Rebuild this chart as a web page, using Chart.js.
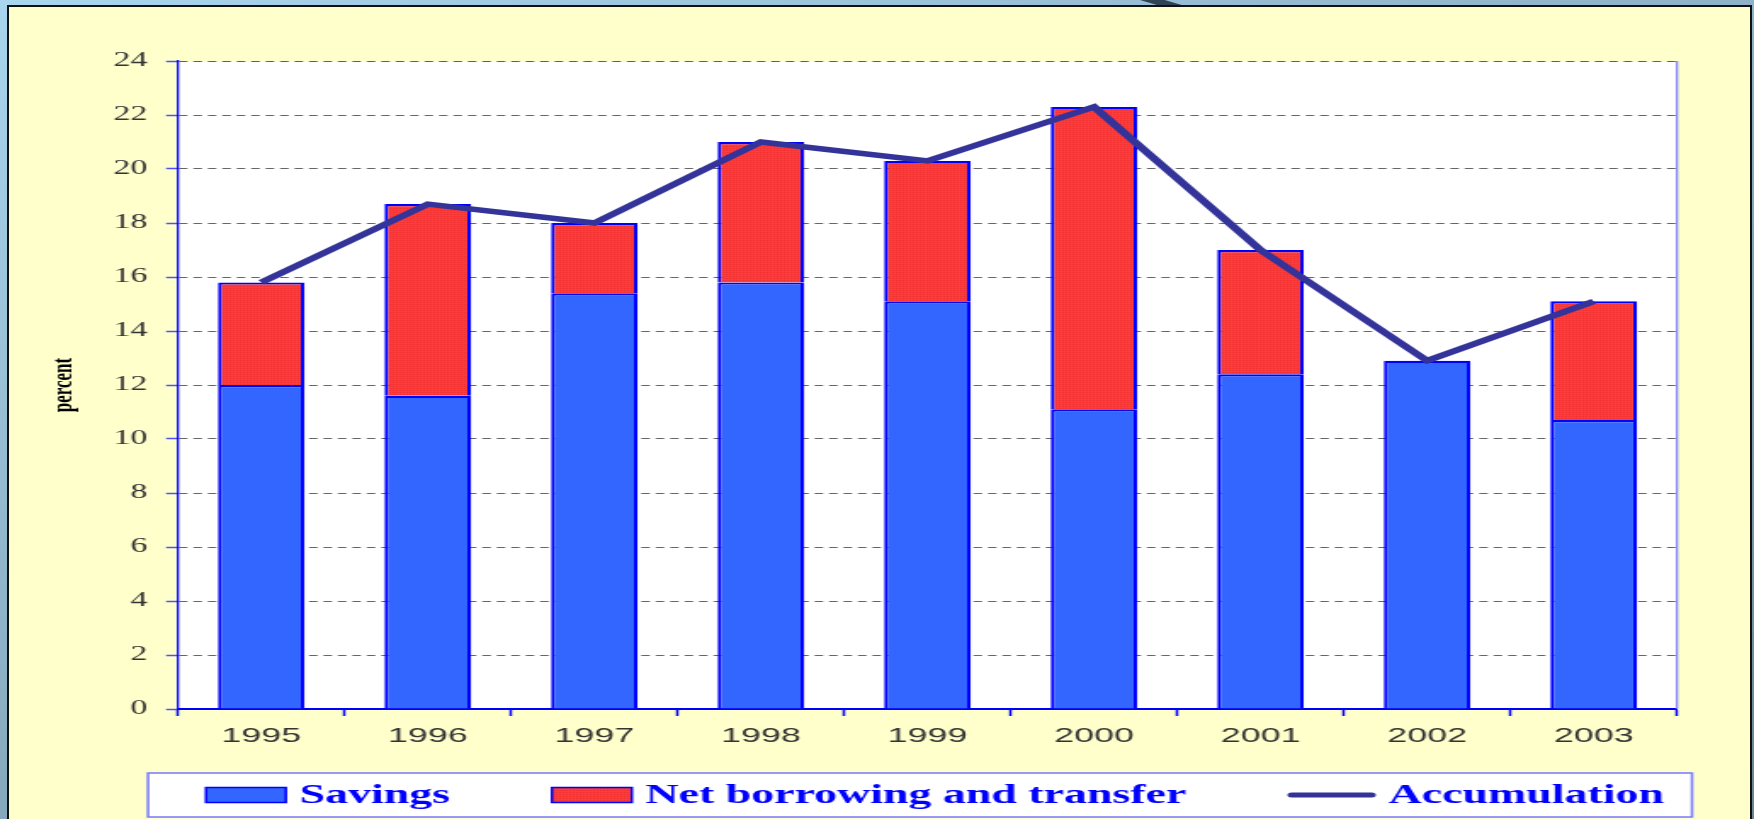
<!DOCTYPE html>
<html>
<head>
<meta charset="utf-8">
<script src="https://cdn.jsdelivr.net/npm/chart.js@4.4.1/dist/chart.umd.min.js"></script>
<style>
  html, body { margin: 0; padding: 0; width: 1754px; height: 819px; overflow: hidden; }
  body { position: relative; background: linear-gradient(160deg, #a9d5ee 0%, #8db1c6 45%, #6a8493 100%); }
  #mark { position: absolute; left: 1140px; top: 0; width: 45px; height: 6px; background: #2f4354;
          clip-path: polygon(0 0, 55% 0, 100% 100%, 45% 100%); }
  #panel { position: absolute; left: 7px; top: 5px; width: 1745px; height: 830px; box-sizing: border-box;
           background: #ffffcc; border: 2px solid #111; }
  #chart { position: absolute; left: 0; top: 0; }
</style>
</head>
<body>
<div id="mark"></div>
<div id="panel"></div>
<canvas id="chart" width="1032" height="819" style="width:1754px;height:819px"></canvas>
<script>
// values (percent)
const years = ['1995', '1996', '1997', '1998', '1999', '2000', '2001', '2002', '2003'];
const savings = [12.0, 11.6, 15.4, 15.8, 15.1, 11.1, 12.4, 12.9, 10.7];
const netBorrowing = [3.8, 7.1, 2.6, 5.2, 5.2, 11.2, 4.6, 0, 4.4];
const accumulation = [15.8, 18.7, 18.0, 21.0, 20.3, 22.3, 17.0, 12.9, 15.1];
const yMin = 0, yMax = 24, yStep = 2;

// the original picture is stretched sideways, so the canvas is drawn narrow and widened by css
const SX = 1754 / 1032;

function redTexture() {
  const c = document.createElement('canvas');
  c.width = 2; c.height = 2;
  const g = c.getContext('2d');
  g.fillStyle = '#ff3b3b'; g.fillRect(0, 0, 2, 2);
  g.fillStyle = '#ee3030'; g.fillRect(1, 0, 1, 1);
  return g.createPattern(c, 'repeat');
}

const plotFrame = {
  id: 'plotFrame',
  beforeDraw(chart) {
    const {ctx, chartArea: a} = chart;
    ctx.save();
    ctx.fillStyle = '#ffffff';
    ctx.fillRect(a.left, a.top, a.right - a.left, a.bottom - a.top);
    ctx.restore();
  },
  afterDatasetsDraw(chart) {
    const {ctx, chartArea: a} = chart;
    ctx.save();
    ctx.strokeStyle = '#7a7aff';
    ctx.lineWidth = 1.2;
    ctx.beginPath();
    ctx.moveTo(a.right, a.top);
    ctx.lineTo(a.right, a.bottom);
    ctx.stroke();
    ctx.restore();
  }
};

const boxLegend = {
  id: 'boxLegend',
  afterDraw(chart) {
    const {ctx, chartArea: a} = chart;
    const left = a.left - 30 / SX, right = a.right + 15 / SX;
    const top = 773, bottom = 817, cy = 795;
    ctx.save();
    ctx.fillStyle = '#ffffff';
    ctx.fillRect(left, top, right - left, bottom - top);
    ctx.strokeStyle = '#7777ff';
    ctx.lineWidth = 1.5;
    ctx.strokeRect(left, top, right - left, bottom - top);

    ctx.font = 'bold 27px "Liberation Serif"';
    ctx.textBaseline = 'middle';
    const gap = 8, between = 60;
    let x = left + 58 / SX;
    chart.data.datasets.forEach(ds => {
      const sw = ds.type === 'line' ? 51 : 47;
      if (ds.type === 'line') {
        ctx.strokeStyle = ds.borderColor;
        ctx.lineWidth = 5;
        ctx.lineCap = 'round';
        ctx.beginPath();
        ctx.moveTo(x + 2, cy);
        ctx.lineTo(x + sw - 2, cy);
        ctx.stroke();
      } else {
        ctx.fillStyle = ds.backgroundColor;
        ctx.fillRect(x, cy - 7.5, sw, 15);
        ctx.strokeStyle = ds.borderColor;
        ctx.lineWidth = 1.5;
        ctx.strokeRect(x, cy - 7.5, sw, 15);
      }
      ctx.fillStyle = '#0000ff';
      ctx.fillText(ds.label, x + sw + gap, cy + 1);
      x += sw + gap + ctx.measureText(ds.label).width + between;
    });
    ctx.restore();
  }
};

Chart.defaults.font.family = '"Liberation Sans", Arial, sans-serif';

new Chart(document.getElementById('chart'), {
  type: 'bar',
  data: {
    labels: years,
    datasets: [
      {
        label: 'Savings',
        data: savings,
        backgroundColor: '#3366ff',
        borderColor: '#0000ff',
        borderWidth: 2.2,
        stack: 'parts',
        order: 1
      },
      {
        label: 'Net borrowing and transfer',
        data: netBorrowing,
        backgroundColor: redTexture(),
        borderColor: '#0000ff',
        borderWidth: 2.2,
        stack: 'parts',
        order: 1
      },
      {
        type: 'line',
        label: 'Accumulation',
        data: accumulation,
        borderColor: '#333399',
        borderWidth: 5.5,
        pointRadius: 0,
        fill: false,
        tension: 0,
        stack: 'total',
        order: 0
      }
    ]
  },
  options: {
    responsive: false,
    animation: false,
    events: [],
    barPercentage: 0.52,
    categoryPercentage: 1,
    layout: { padding: { left: 0, top: 61, right: 1032 - 1677 / SX, bottom: 70 } },
    plugins: {
      legend: { display: false },
      tooltip: { enabled: false }
    },
    scales: {
      x: {
        stacked: true,
        afterFit: s => { s.height = 40; },
        grid: {
          offset: true,
          drawOnChartArea: false,
          tickLength: 7,
          tickColor: '#0000ff',
          tickWidth: 1.5
        },
        border: { color: '#0000ff', width: 2 },
        ticks: { color: '#333333', padding: 8, font: { size: 21 } }
      },
      y: {
        stacked: true,
        min: yMin,
        max: yMax,
        afterFit: s => { s.width = 178 / SX; },
        grid: {
          color: c => (c.tick && c.tick.value === yMax ? '#5050d0' : '#666666'),
          lineWidth: 1,
          tickLength: 7,
          tickColor: '#4f4fff',
          tickWidth: 1.5
        },
        border: { color: '#0000ff', width: 1.3, dash: [5, 3.5] },
        ticks: {
          stepSize: yStep,
          color: '#333333',
          padding: 11,
          font: { family: '"Liberation Serif", "Times New Roman", serif', size: 20 }
        },
        title: {
          display: true,
          text: 'percent',
          color: '#000000',
          padding: { top: 27, bottom: 0 },
          font: { family: '"Liberation Serif", serif', size: 17, weight: 'bold' }
        }
      }
    }
  },
  plugins: [plotFrame, boxLegend]
});
</script>
</body>
</html>
